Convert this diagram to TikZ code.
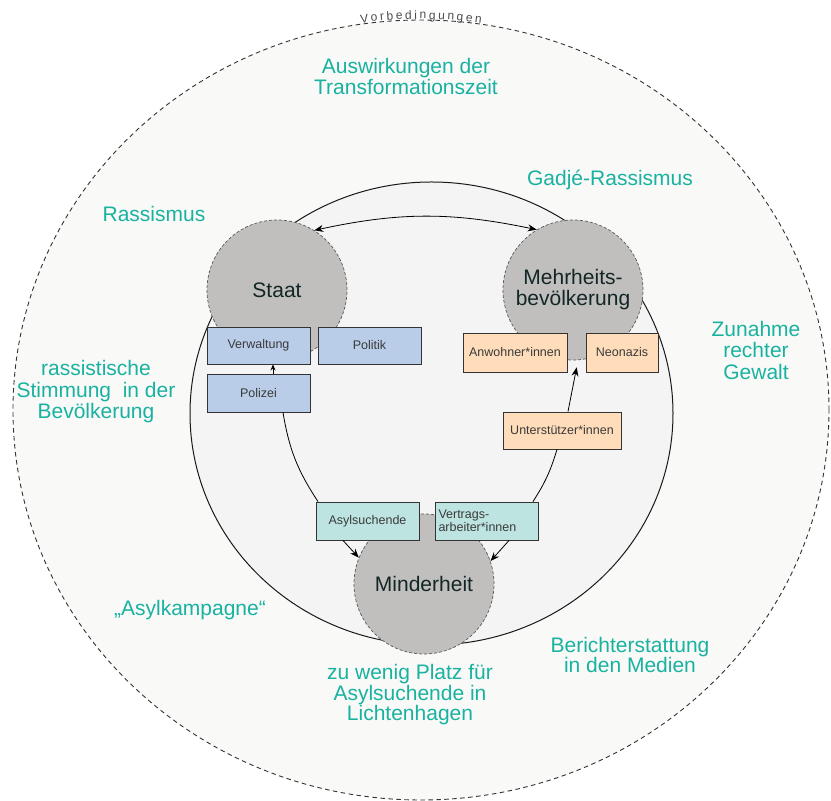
\documentclass[tikz,border=0pt]{standalone}
\usepackage{fontspec}
\setmainfont{Liberation Sans}
\newfontfamily\vorbfont[WordSpace=0.75]{Liberation Sans}
\usetikzlibrary{arrows.meta,decorations.text}
\definecolor{teal1}{HTML}{19B2A0}
\definecolor{outerbg}{HTML}{F9F9F8}
\definecolor{innerbg}{HTML}{F4F4F4}
\definecolor{circ}{HTML}{C1BFBD}
\definecolor{bblue}{HTML}{B9CDE8}
\definecolor{borange}{HTML}{FFDDBB}
\definecolor{bteal}{HTML}{BDE4E1}
\definecolor{boxtext}{HTML}{3A3A3A}
\definecolor{circtext}{HTML}{132626}
\tikzset{
  bigcirc/.style={circle, minimum size=140pt, inner sep=0pt, fill=circ, draw=black!65,
    dash pattern=on 3pt off 2pt, line width=0.7pt, font=\fontsize{21}{23}\selectfont,
    text=circtext, align=center},
  boxnode/.style={rectangle, draw=black!80, line width=0.9pt, minimum height=37pt,
    inner sep=0pt, font=\fontsize{12.5}{13.5}\selectfont, text=boxtext},
  lbl/.style={text=teal1, font=\fontsize{21}{21}\selectfont, align=center},
  conn/.style={line width=0.8pt, black},
  arr/.style={conn, -{Stealth[length=9pt,width=7pt]}},
}
\begin{document}
\begin{tikzpicture}[x=1pt,y=1pt]
\useasboundingbox (0,0) rectangle (831,801);
\fill[white] (0,0) rectangle (831,801);
% outer ellipse
\draw[fill=outerbg, dash pattern=on 4.5pt off 3.5pt, line width=0.9pt, draw=black!80]
  (421,391) ellipse [x radius=408, y radius=390];
\path[decorate, decoration={text along path, text align=center, raise=1pt,
  text={|\vorbfont\fontsize{12}{12}\selectfont\color{black!70}|V o r b e d i n g u n g e n}}]
  (421,391) ++(110:408 and 390) arc[start angle=110, end angle=70, x radius=408, y radius=390];
% inner ellipse
\draw[fill=innerbg, line width=1pt, draw=black!90]
  (431.5,387.5) ellipse [x radius=241.5, y radius=231.5];
% circles
\node[bigcirc] (staat) at (277,511) {Staat};
\node[bigcirc] (mehr) at (573,511) {Mehrheits-\\[-2pt]bevölkerung};
\node[bigcirc] (minder) at (424,217) {Minderheit};
% boxes
\node[boxnode, fill=bblue, minimum width=103pt] (verw) at (258.5,455.5) {Verwaltung};
\node[boxnode, fill=bblue, minimum width=103pt] (polit) at (369.5,455.5) {Politik};
\node[boxnode, fill=bblue, minimum width=103pt, minimum height=38pt] (polizei) at (258.5,408) {Polizei};
\node[boxnode, fill=borange, minimum width=104pt, minimum height=39pt] (anw) at (515,448.5) {Anwohner*innen};
\node[boxnode, fill=borange, minimum width=72pt, minimum height=39pt] (neo) at (622,448.5) {Neonazis};
\node[boxnode, fill=borange, minimum width=118pt] (unter) at (562,370.5) {Unterstützer*innen};
\node[boxnode, fill=bteal, minimum width=103pt, minimum height=38pt] (asyl) at (367.5,280) {Asylsuchende};
\node[boxnode, fill=bteal, minimum width=103pt, minimum height=38pt, text width=96pt, align=left] (vertr) at (486.5,280) {Vertrags-\\arbeiter*innen};
% connectors
\draw[conn, {Stealth[length=9pt,width=7pt]}-{Stealth[length=9pt,width=7pt]}]
  (staat.58) to[bend left=12] (mehr.121);
\draw[conn, -{Stealth[length=6pt,width=5pt]}] ([xshift=14.5pt]polizei.north) -- ([xshift=14.5pt]verw.south);
\draw[conn] ([xshift=24.5pt]polizei.south) to[bend right=12] ([xshift=-49.5pt]asyl.north);
\draw[conn] ([xshift=46.5pt]vertr.north) to[bend right=8] ([xshift=-5pt]unter.south);
\draw[arr] ([xshift=-24.5pt]asyl.south) -- (minder.158);
\draw[arr] ([xshift=22.5pt]vertr.south) -- (minder.19);
\draw[arr] ([xshift=6pt]unter.north) -- ([yshift=-7pt]mehr.-87);
% labels
\node[lbl] (l1) at (406,724) {Auswirkungen der\\Transformationszeit};
\node[lbl] (l2) at (610,621) {Gadjé-Rassismus};
\node[lbl] (l3) at (154,587) {Rassismus};
\node[lbl, font=\fontsize{21}{21.5}\selectfont] (l4) at (756,451) {Zunahme\\rechter\\Gewalt};
\node[lbl, font=\fontsize{21}{21.5}\selectfont] (l5) at (96,409) {rassistische\\Stimmung~ in der\\Bevölkerung};
\node[lbl] (l6) at (190,191) {„Asylkampagne“};
\node[lbl, font=\fontsize{21}{17}\selectfont] (l7) at (630,146) {Berichterstattung\\in den Medien};
\node[lbl, font=\fontsize{21}{20.5}\selectfont] (l8) at (410,106) {zu wenig Platz für\\Asylsuchende in\\Lichtenhagen};
\end{tikzpicture}
\end{document}
